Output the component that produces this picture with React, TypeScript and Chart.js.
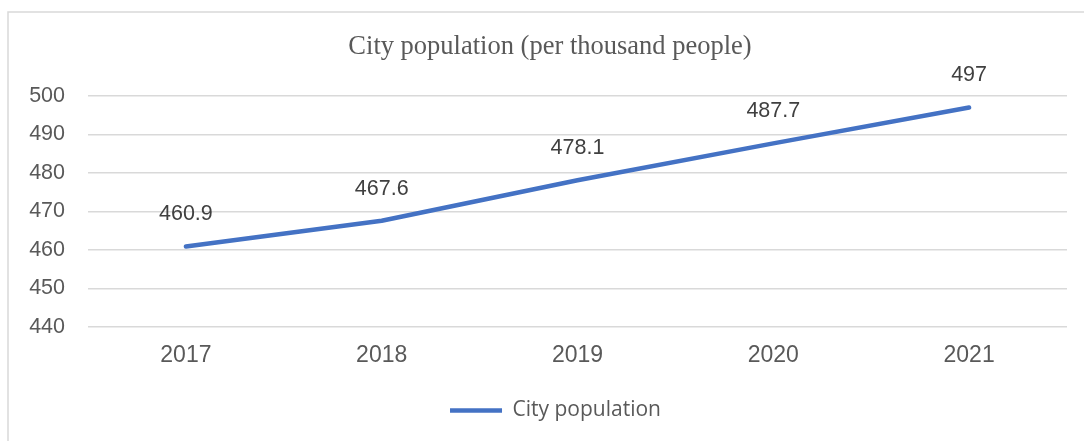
import React, { useEffect, useRef } from "react";
import { Chart, registerables } from "chart.js";

Chart.register(...registerables);

const years = ["2017", "2018", "2019", "2020", "2021"];
const population = [460.9, 467.6, 478.1, 487.7, 497];
const seriesName = "City population";
const titleText = "City population (per thousand people)";
const yMin = 440;
const yMax = 500;
const yStep = 10;

const borderPlugin = {
  id: "frame",
  beforeDraw(chart: any) {
    const ctx = chart.ctx;
    ctx.save();
    ctx.fillStyle = "#ffffff";
    ctx.fillRect(0, 0, chart.width, chart.height);
    ctx.strokeStyle = "#d9d9d9";
    ctx.lineWidth = 1.5;
    ctx.beginPath();
    ctx.moveTo(8, chart.height + 2);
    ctx.lineTo(8, 12);
    ctx.lineTo(chart.width + 2, 12);
    ctx.stroke();
    ctx.restore();
  },
};

// The original chart frame is wider than the crop, so title and legend sit a bit right of centre.
const shiftPlugin = {
  id: "blockShift",
  afterLayout(chart: any) {
    const tb = chart.titleBlock;
    if (tb) {
      tb.left += 8.5;
      tb.right += 8.5;
    }
    const lb = chart.legend;
    if (lb) {
      lb.left += 14;
      lb.right += 14;
      if (lb.legendHitBoxes) {
        lb.legendHitBoxes.forEach((h: any) => (h.left += 14));
      }
    }
  },
};

const labelPlugin = {
  id: "valueLabels",
  afterDatasetsDraw(chart: any) {
    const ctx = chart.ctx;
    const meta = chart.getDatasetMeta(0);
    const data = chart.data.datasets[0].data;
    ctx.save();
    ctx.font = "21.5px 'Liberation Sans', Arial, sans-serif";
    ctx.fillStyle = "#404040";
    ctx.textAlign = "center";
    ctx.textBaseline = "middle";
    meta.data.forEach((pt: any, i: number) => {
      ctx.fillText(String(data[i]), pt.x, pt.y - 32);
    });
    ctx.restore();
  },
};

export default function App() {
  const ref = useRef<HTMLCanvasElement | null>(null);
  useEffect(() => {
    if (!ref.current) return;
    const chart = new Chart(ref.current, {
      type: "line",
      data: {
        labels: years,
        datasets: [
          {
            label: seriesName,
            data: population,
            borderColor: "#4472C4",
            backgroundColor: "#4472C4",
            borderWidth: 4.5,
            borderCapStyle: "round",
            borderJoinStyle: "round",
            pointRadius: 0,
            pointHoverRadius: 0,
            tension: 0,
            fill: false,
          },
        ],
      },
      options: {
        responsive: false,
        animation: false,
        layout: { padding: { left: 16, right: 17, top: 0, bottom: 10 } },
        plugins: {
          title: {
            display: true,
            text: titleText,
            color: "#595959",
            font: { family: "'Liberation Serif', 'Times New Roman', serif", size: 26.5, weight: "normal", lineHeight: 1.2 },
            padding: { top: 31.6, bottom: 32.6 },
          },
          legend: {
            display: true,
            position: "bottom",
            labels: {
              usePointStyle: true,
              pointStyle: "line",
              pointStyleWidth: 52,
              color: "#595959",
              padding: 10,
              font: { family: "'Open Sans', sans-serif", size: 21 },
            },
          },
          tooltip: { enabled: false },
        },
        scales: {
          x: {
            offset: true,
            grid: { display: false, drawTicks: false },
            border: { display: false },
            ticks: {
              color: "#595959",
              padding: 15,
              font: { family: "'Liberation Sans', Arial, sans-serif", size: 23 },
            },
            afterFit(scale: any) {
              scale.height = 63;
            },
          },
          y: {
            min: yMin,
            max: yMax,
            grid: { color: "#d9d9d9", lineWidth: 1.5, drawTicks: false },
            border: { display: false },
            ticks: {
              stepSize: yStep,
              color: "#595959",
              padding: 23,
              font: { family: "'Liberation Sans', Arial, sans-serif", size: 21.5 },
            },
            afterFit(scale: any) {
              scale.width = 72;
            },
          },
        },
      },
      plugins: [borderPlugin, shiftPlugin, labelPlugin],
    });
    return () => chart.destroy();
  }, []);
  return (
    <div style={{ position: "absolute", left: 0, top: 0, width: 1084, height: 441, overflow: "hidden" }}>
      <canvas ref={ref} width={1084} height={441} style={{ display: "block" }} />
    </div>
  );
}
